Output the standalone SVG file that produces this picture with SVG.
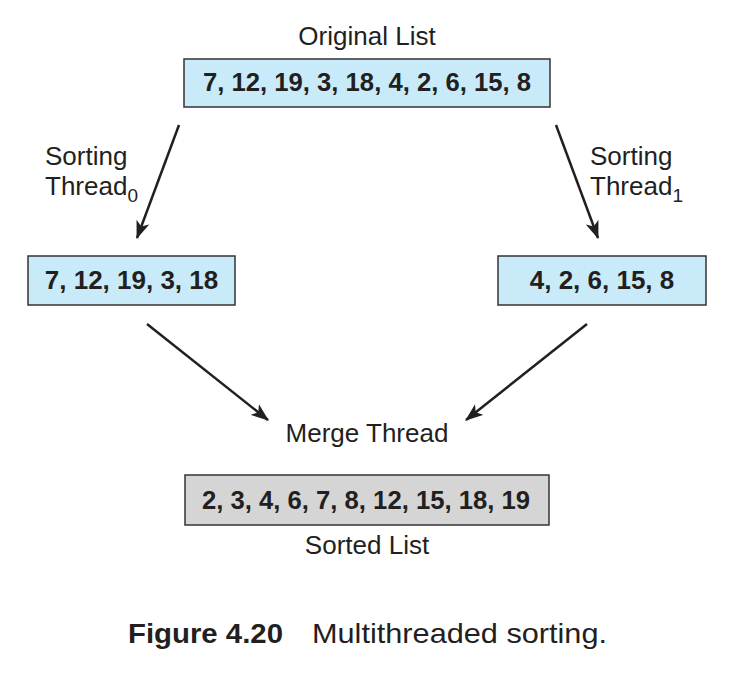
<svg xmlns="http://www.w3.org/2000/svg" width="733" height="679" viewBox="0 0 733 679">
<style>
.box{fill:#c9ebf9;stroke:#333;stroke-width:1.5}
.gbox{fill:#d5d5d5;stroke:#333;stroke-width:1.5}
.num{font-family:"Liberation Sans",Arial,sans-serif;font-weight:bold;font-size:26px;fill:#231f20;text-anchor:middle}
.lbl{font-family:"Liberation Sans",Arial,sans-serif;font-size:26px;fill:#231f20}
.sub{font-size:19px}
.cap{font-family:"Liberation Sans",Arial,sans-serif;font-size:28px;fill:#231f20}
.conn line{stroke:#231f20;stroke-width:2.5;marker-end:url(#ah)}
</style>
<defs>
<marker id="ah" markerUnits="userSpaceOnUse" markerWidth="18" markerHeight="14" refX="15" refY="6" orient="auto" viewBox="0 0 16 12">
<path d="M0,0 L16,6 L0,12 L4,6 Z" fill="#231f20"/>
</marker>
</defs>
<rect width="733" height="679" fill="#fff"/>
<g id="original">
<text class="lbl" x="367" y="45" text-anchor="middle">Original List</text>
<rect class="box" x="184" y="59" width="366" height="48"/>
<text class="num" x="367" y="91" textLength="328" lengthAdjust="spacingAndGlyphs">7, 12, 19, 3, 18, 4, 2, 6, 15, 8</text>
</g>
<g id="left">
<rect class="box" x="28" y="256" width="207" height="49"/>
<text class="num" x="131.5" y="289">7, 12, 19, 3, 18</text>
</g>
<g id="right">
<rect class="box" x="498" y="256" width="208" height="49"/>
<text class="num" x="602" y="289">4, 2, 6, 15, 8</text>
</g>
<g id="sorted">
<rect class="gbox" x="185" y="475" width="364" height="50"/>
<text class="num" x="366" y="509" textLength="328" lengthAdjust="spacingAndGlyphs">2, 3, 4, 6, 7, 8, 12, 15, 18, 19</text>
<text class="lbl" x="367" y="554" text-anchor="middle">Sorted List</text>
</g>
<g id="labels">
<text class="lbl" x="45" y="165">Sorting</text>
<text class="lbl" x="45" y="195">Thread<tspan class="sub" dy="7">0</tspan></text>
<text class="lbl" x="590" y="165">Sorting</text>
<text class="lbl" x="590" y="195">Thread<tspan class="sub" dy="7">1</tspan></text>
<text class="lbl" x="367" y="442" text-anchor="middle">Merge Thread</text>
</g>
<g class="conn" id="connectors">
<line x1="179" y1="125" x2="137" y2="238"/>
<line x1="556" y1="125" x2="598" y2="238"/>
<line x1="147" y1="324" x2="268" y2="420"/>
<line x1="587" y1="324" x2="466" y2="420"/>
</g>
<g id="caption">
<text class="cap" x="128" y="643" font-weight="bold" textLength="155" lengthAdjust="spacingAndGlyphs">Figure 4.20</text>
<text class="cap" x="312" y="643" textLength="295" lengthAdjust="spacingAndGlyphs">Multithreaded sorting.</text>
</g>
</svg>
